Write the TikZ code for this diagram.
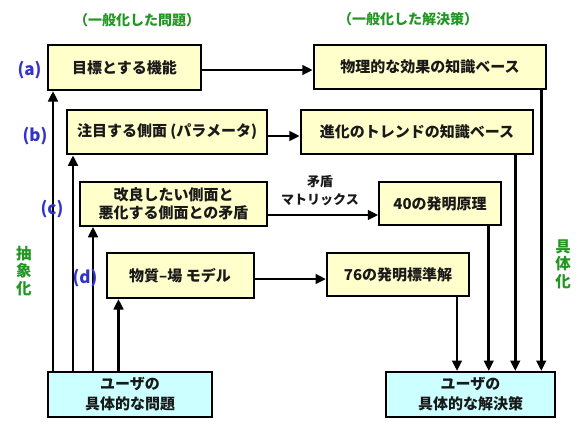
\documentclass[tikz,border=0pt]{standalone}
\usepackage{fontspec}
\setmainfont{Noto Sans CJK JP}
\usetikzlibrary{arrows.meta,calc}
\definecolor{boxy}{RGB}{255,255,204}
\definecolor{boxc}{RGB}{204,255,255}
\definecolor{lblue}{RGB}{51,51,204}
\definecolor{lgreen}{RGB}{34,150,34}
\definecolor{ink}{RGB}{25,25,25}
\begin{document}
\begin{tikzpicture}[x=1pt,y=-1pt,
  box/.style={draw=black, line width=2pt, fill=boxy, inner sep=0pt, align=center, text=ink,
    font=\bfseries\fontsize{15}{18}\selectfont},
  ubox/.style={box, fill=boxc, font=\bfseries\fontsize{15}{20}\selectfont},
  arr/.style={line width=2.7pt, -{Triangle[length=10.5pt,width=9.5pt]}},
  tag/.style={text=lblue, font=\bfseries\fontsize{17}{17}\selectfont},
  head/.style={text=lgreen, font=\bfseries\fontsize{14}{14}\selectfont},
  vlab/.style={text=lgreen, font=\bfseries\fontsize{15.5}{17.5}\selectfont, align=center},
  mlabel/.style={text=ink, align=center, font=\bfseries\fontsize{13}{18}\selectfont},
]
\useasboundingbox (0,0) rectangle (583,429);

% left column
\node[box, minimum width=153pt, minimum height=45pt] (A) at (124.5,67.5) {目標とする機能};
\node[box, minimum width=200pt, minimum height=44.5pt] (B) at (167,132) {注目する側面 (パラメータ)};
\node[box, minimum width=187pt, minimum height=43.5pt] (C) at (173.5,204) {改良したい側面と\\悪化する側面との矛盾};
\node[box, minimum width=147pt, minimum height=45pt] (D) at (180,275.5) {物質–場 モデル};
\node[ubox, minimum width=164pt, minimum height=45pt] (P) at (130,394.5) {ユーザの\\具体的な問題};

% right column
\node[box, minimum width=232.5pt, minimum height=44pt] (A2) at (430,67) {物理的な効果の知識ベース};
\node[box, minimum width=232.5pt, minimum height=44.5pt] (B2) at (417,132) {進化のトレンドの知識ベース};
\node[box, minimum width=121.5pt, minimum height=43pt] (C2) at (440,203.5) {40の発明原理};
\node[box, minimum width=142pt, minimum height=43pt] (D2) at (398,274.5) {76の発明標準解};
\node[ubox, minimum width=169pt, minimum height=45pt] (S) at (470.5,394.5) {ユーザの\\具体的な解決策};

% horizontal arrows
\coordinate (ha) at ($(A.east)+(0,2.5)$);
\coordinate (hb) at ($(B.east)+(0,4)$);
\coordinate (hc) at ($(C.east)+(0,11)$);
\coordinate (hd) at ($(D.east)+(0,3.5)$);
\draw[arr] (ha) -- (ha -| A2.west);
\draw[arr] (hb) -- (hb -| B2.west);
\draw[arr] (hc) -- (hc -| C2.west);
\draw[arr] (hd) -- (hd -| D2.west);

% upward arrows from the problem
\coordinate (ua) at ($(A.south west)+(6,0)$);
\coordinate (ub) at ($(B.south west)+(7,0)$);
\coordinate (uc) at ($(C.south west)+(14,0)$);
\coordinate (ud) at ($(D.south west)+(13,0)$);
\draw[arr] (ua |- P.north) -- (ua);
\draw[arr] (ub |- P.north) -- (ub);
\draw[arr] (uc |- P.north) -- (uc);
\draw[arr] (ud |- P.north) -- (ud);

% downward arrows to the solution
\coordinate (da) at ($(A2.south east)+(-6,0)$);
\coordinate (db) at ($(B2.south east)+(-19,0)$);
\coordinate (dc) at ($(C2.south east)+(-13,0)$);
\coordinate (dd) at ($(D2.south east)+(-13,0)$);
\draw[arr] (da) -- (da |- S.north);
\draw[arr] (db) -- (db |- S.north);
\draw[arr] (dc) -- (dc |- S.north);
\draw[arr] (dd) -- (dd |- S.north);

% labels
\node[mlabel] (mat) at (320,191) {矛盾\\マトリックス};
\node[tag] (la) at (29.5,70) {(a)};
\node[tag] (lb) at (35,136) {(b)};
\node[tag] (lc) at (52,209) {(c)};
\node[tag] (ld) at (85,278) {(d)};
\node[head] (h1) at (137,20) {（一般化した問題）};
\node[head] (h2) at (408,19) {（一般化した解決策）};
\node[vlab] (abs) at (24,271) {抽\\象\\化};
\node[vlab] (con) at (563,264) {具\\体\\化};
\end{tikzpicture}
\end{document}
